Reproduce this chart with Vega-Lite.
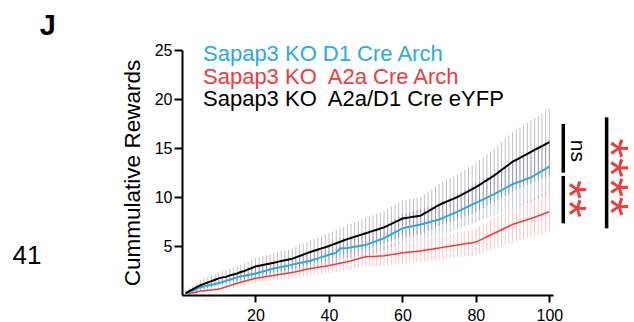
{
"$schema": "https://vega.github.io/schema/vega-lite/v6.json",
"width": 371, "height": 245,
"autosize": {"type": "none"},
"padding": {"left": 182, "top": 50, "right": 81, "bottom": 27},
"config": {
  "font": "Liberation Sans",
  "view": {"stroke": null},
  "axis": {"grid": false, "domainColor": "#000", "tickColor": "#000", "labelColor": "#000", "titleColor": "#000", "domainWidth": 2, "tickWidth": 2, "labelFont": "Liberation Sans", "titleFont": "Liberation Sans"}
},
"datasets": {
"one": [{}],
"blk": [
{"t":1,"m":0.2,"e":0.34},{"t":2,"m":0.4,"e":0.38},{"t":3,"m":0.6,"e":0.42},{"t":4,"m":0.8,"e":0.46},{"t":5,"m":1.0,"e":0.5},
{"t":6,"m":1.14,"e":0.53},{"t":7,"m":1.28,"e":0.56},{"t":8,"m":1.42,"e":0.58},{"t":9,"m":1.56,"e":0.61},{"t":10,"m":1.7,"e":0.64},
{"t":11,"m":1.8,"e":0.66},{"t":12,"m":1.85,"e":0.67},{"t":13,"m":2.0,"e":0.7},{"t":14,"m":2.1,"e":0.72},{"t":15,"m":2.2,"e":0.74},
{"t":16,"m":2.34,"e":0.77},{"t":17,"m":2.45,"e":0.79},{"t":18,"m":2.62,"e":0.82},{"t":19,"m":2.76,"e":0.85},{"t":20,"m":2.9,"e":0.88},
{"t":21,"m":2.98,"e":0.9},{"t":22,"m":3.06,"e":0.91},{"t":23,"m":3.14,"e":0.93},{"t":24,"m":3.22,"e":0.94},{"t":25,"m":3.3,"e":0.96},
{"t":26,"m":3.38,"e":0.98},{"t":27,"m":3.46,"e":0.99},{"t":28,"m":3.54,"e":1.01},{"t":29,"m":3.62,"e":1.02},{"t":30,"m":3.7,"e":1.04},
{"t":31,"m":3.84,"e":1.07},{"t":32,"m":3.98,"e":1.1},{"t":33,"m":4.12,"e":1.12},{"t":34,"m":4.26,"e":1.15},{"t":35,"m":4.4,"e":1.18},
{"t":36,"m":4.52,"e":1.2},{"t":37,"m":4.64,"e":1.23},{"t":38,"m":4.76,"e":1.25},{"t":39,"m":4.88,"e":1.28},{"t":40,"m":5.0,"e":1.3},
{"t":41,"m":5.14,"e":1.33},{"t":42,"m":5.28,"e":1.36},{"t":43,"m":5.42,"e":1.38},{"t":44,"m":5.56,"e":1.41},{"t":45,"m":5.7,"e":1.44},
{"t":46,"m":5.82,"e":1.46},{"t":47,"m":5.94,"e":1.49},{"t":48,"m":6.06,"e":1.51},{"t":49,"m":6.18,"e":1.54},{"t":50,"m":6.3,"e":1.56},
{"t":51,"m":6.42,"e":1.58},{"t":52,"m":6.54,"e":1.61},{"t":53,"m":6.66,"e":1.63},{"t":54,"m":6.78,"e":1.66},{"t":55,"m":6.9,"e":1.68},
{"t":56,"m":7.08,"e":1.72},{"t":57,"m":7.26,"e":1.75},{"t":58,"m":7.44,"e":1.79},{"t":59,"m":7.62,"e":1.82},{"t":60,"m":7.8,"e":1.86},
{"t":61,"m":7.86,"e":1.87},{"t":62,"m":7.92,"e":1.88},{"t":63,"m":7.98,"e":1.9},{"t":64,"m":8.04,"e":1.91},{"t":65,"m":8.1,"e":1.92},
{"t":66,"m":8.32,"e":1.96},{"t":67,"m":8.54,"e":2.01},{"t":68,"m":8.76,"e":2.05},{"t":69,"m":8.98,"e":2.1},{"t":70,"m":9.2,"e":2.14},
{"t":71,"m":9.36,"e":2.17},{"t":72,"m":9.52,"e":2.2},{"t":73,"m":9.68,"e":2.24},{"t":74,"m":9.84,"e":2.27},{"t":75,"m":10.0,"e":2.3},
{"t":76,"m":10.2,"e":2.34},{"t":77,"m":10.4,"e":2.38},{"t":78,"m":10.6,"e":2.42},{"t":79,"m":10.8,"e":2.46},{"t":80,"m":11.0,"e":2.5},
{"t":81,"m":11.24,"e":2.55},{"t":82,"m":11.48,"e":2.6},{"t":83,"m":11.72,"e":2.64},{"t":84,"m":11.96,"e":2.69},{"t":85,"m":12.2,"e":2.74},
{"t":86,"m":12.48,"e":2.8},{"t":87,"m":12.76,"e":2.85},{"t":88,"m":13.04,"e":2.91},{"t":89,"m":13.32,"e":2.96},{"t":90,"m":13.6,"e":3.02},
{"t":91,"m":13.8,"e":3.06},{"t":92,"m":14.0,"e":3.1},{"t":93,"m":14.2,"e":3.14},{"t":94,"m":14.4,"e":3.18},{"t":95,"m":14.6,"e":3.22},
{"t":96,"m":14.8,"e":3.26},{"t":97,"m":15.0,"e":3.3},{"t":98,"m":15.2,"e":3.34},{"t":99,"m":15.4,"e":3.38},{"t":100,"m":15.6,"e":3.42}
],
"blu": [
{"t":1,"m":0.1,"e":0.12},{"t":2,"m":0.28,"e":0.16},{"t":3,"m":0.45,"e":0.19},{"t":4,"m":0.63,"e":0.23},{"t":5,"m":0.8,"e":0.26},
{"t":6,"m":0.88,"e":0.28},{"t":7,"m":0.96,"e":0.29},{"t":8,"m":1.04,"e":0.31},{"t":9,"m":1.12,"e":0.32},{"t":10,"m":1.2,"e":0.34},
{"t":11,"m":1.32,"e":0.36},{"t":12,"m":1.44,"e":0.39},{"t":13,"m":1.56,"e":0.41},{"t":14,"m":1.68,"e":0.44},{"t":15,"m":1.8,"e":0.46},
{"t":16,"m":1.88,"e":0.48},{"t":17,"m":1.96,"e":0.49},{"t":18,"m":2.04,"e":0.51},{"t":19,"m":2.12,"e":0.52},{"t":20,"m":2.2,"e":0.54},
{"t":21,"m":2.3,"e":0.56},{"t":22,"m":2.4,"e":0.58},{"t":23,"m":2.5,"e":0.6},{"t":24,"m":2.6,"e":0.62},{"t":25,"m":2.7,"e":0.64},
{"t":26,"m":2.78,"e":0.66},{"t":27,"m":2.86,"e":0.67},{"t":28,"m":2.94,"e":0.69},{"t":29,"m":3.02,"e":0.7},{"t":30,"m":3.1,"e":0.72},
{"t":31,"m":3.18,"e":0.74},{"t":32,"m":3.26,"e":0.75},{"t":33,"m":3.34,"e":0.77},{"t":34,"m":3.42,"e":0.78},{"t":35,"m":3.5,"e":0.8},
{"t":36,"m":3.62,"e":0.82},{"t":37,"m":3.74,"e":0.85},{"t":38,"m":3.86,"e":0.87},{"t":39,"m":3.98,"e":0.9},{"t":40,"m":4.1,"e":0.92},
{"t":41,"m":4.2,"e":0.94},{"t":42,"m":4.3,"e":0.96},{"t":43,"m":4.75,"e":1.05},{"t":44,"m":4.78,"e":1.06},{"t":45,"m":4.8,"e":1.06},
{"t":46,"m":4.86,"e":1.07},{"t":47,"m":4.92,"e":1.08},{"t":48,"m":4.98,"e":1.1},{"t":49,"m":5.04,"e":1.11},{"t":50,"m":5.1,"e":1.12},
{"t":51,"m":5.24,"e":1.15},{"t":52,"m":5.38,"e":1.18},{"t":53,"m":5.52,"e":1.2},{"t":54,"m":5.66,"e":1.23},{"t":55,"m":5.8,"e":1.26},
{"t":56,"m":6.0,"e":1.3},{"t":57,"m":6.2,"e":1.34},{"t":58,"m":6.4,"e":1.38},{"t":59,"m":6.6,"e":1.42},{"t":60,"m":6.8,"e":1.46},
{"t":61,"m":6.88,"e":1.48},{"t":62,"m":6.96,"e":1.49},{"t":63,"m":7.04,"e":1.51},{"t":64,"m":7.12,"e":1.52},{"t":65,"m":7.2,"e":1.54},
{"t":66,"m":7.3,"e":1.56},{"t":67,"m":7.4,"e":1.58},{"t":68,"m":7.5,"e":1.6},{"t":69,"m":7.6,"e":1.62},{"t":70,"m":7.7,"e":1.64},
{"t":71,"m":7.86,"e":1.67},{"t":72,"m":8.02,"e":1.7},{"t":73,"m":8.18,"e":1.74},{"t":74,"m":8.34,"e":1.77},{"t":75,"m":8.5,"e":1.8},
{"t":76,"m":8.68,"e":1.84},{"t":77,"m":8.86,"e":1.87},{"t":78,"m":9.04,"e":1.91},{"t":79,"m":9.22,"e":1.94},{"t":80,"m":9.4,"e":1.98},
{"t":81,"m":9.58,"e":2.02},{"t":82,"m":9.76,"e":2.05},{"t":83,"m":9.94,"e":2.09},{"t":84,"m":10.12,"e":2.12},{"t":85,"m":10.3,"e":2.16},
{"t":86,"m":10.5,"e":2.2},{"t":87,"m":10.7,"e":2.24},{"t":88,"m":10.9,"e":2.28},{"t":89,"m":11.1,"e":2.32},{"t":90,"m":11.3,"e":2.36},
{"t":91,"m":11.44,"e":2.39},{"t":92,"m":11.58,"e":2.42},{"t":93,"m":11.72,"e":2.44},{"t":94,"m":11.86,"e":2.47},{"t":95,"m":12.0,"e":2.5},
{"t":96,"m":12.22,"e":2.54},{"t":97,"m":12.44,"e":2.59},{"t":98,"m":12.66,"e":2.63},{"t":99,"m":12.88,"e":2.68},{"t":100,"m":13.1,"e":2.72}
],
"red": [
{"t":1,"m":0.05,"e":0.06},{"t":2,"m":0.14,"e":0.08},{"t":3,"m":0.22,"e":0.1},{"t":4,"m":0.31,"e":0.12},{"t":5,"m":0.4,"e":0.15},
{"t":6,"m":0.44,"e":0.16},{"t":7,"m":0.48,"e":0.17},{"t":8,"m":0.52,"e":0.17},{"t":9,"m":0.56,"e":0.18},{"t":10,"m":0.6,"e":0.19},
{"t":11,"m":0.72,"e":0.22},{"t":12,"m":0.84,"e":0.25},{"t":13,"m":0.96,"e":0.28},{"t":14,"m":1.08,"e":0.31},{"t":15,"m":1.2,"e":0.34},
{"t":16,"m":1.3,"e":0.36},{"t":17,"m":1.4,"e":0.39},{"t":18,"m":1.5,"e":0.41},{"t":19,"m":1.6,"e":0.43},{"t":20,"m":1.7,"e":0.46},
{"t":21,"m":1.76,"e":0.47},{"t":22,"m":1.82,"e":0.49},{"t":23,"m":1.88,"e":0.5},{"t":24,"m":1.94,"e":0.52},{"t":25,"m":2.0,"e":0.53},
{"t":26,"m":2.06,"e":0.54},{"t":27,"m":2.12,"e":0.56},{"t":28,"m":2.18,"e":0.57},{"t":29,"m":2.24,"e":0.59},{"t":30,"m":2.3,"e":0.6},
{"t":31,"m":2.38,"e":0.62},{"t":32,"m":2.46,"e":0.64},{"t":33,"m":2.54,"e":0.66},{"t":34,"m":2.62,"e":0.68},{"t":35,"m":2.7,"e":0.7},
{"t":36,"m":2.76,"e":0.71},{"t":37,"m":2.82,"e":0.73},{"t":38,"m":2.88,"e":0.74},{"t":39,"m":2.94,"e":0.76},{"t":40,"m":3.0,"e":0.77},
{"t":41,"m":3.08,"e":0.79},{"t":42,"m":3.16,"e":0.81},{"t":43,"m":3.24,"e":0.83},{"t":44,"m":3.32,"e":0.85},{"t":45,"m":3.4,"e":0.87},
{"t":46,"m":3.5,"e":0.89},{"t":47,"m":3.6,"e":0.91},{"t":48,"m":3.7,"e":0.94},{"t":49,"m":3.8,"e":0.96},{"t":50,"m":3.9,"e":0.99},
{"t":51,"m":3.92,"e":0.99},{"t":52,"m":3.94,"e":1.0},{"t":53,"m":3.96,"e":1.0},{"t":54,"m":3.98,"e":1.01},{"t":55,"m":4.0,"e":1.01},
{"t":56,"m":4.06,"e":1.02},{"t":57,"m":4.12,"e":1.04},{"t":58,"m":4.18,"e":1.05},{"t":59,"m":4.24,"e":1.07},{"t":60,"m":4.3,"e":1.08},
{"t":61,"m":4.34,"e":1.09},{"t":62,"m":4.38,"e":1.1},{"t":63,"m":4.42,"e":1.11},{"t":64,"m":4.46,"e":1.12},{"t":65,"m":4.5,"e":1.13},
{"t":66,"m":4.56,"e":1.14},{"t":67,"m":4.62,"e":1.16},{"t":68,"m":4.68,"e":1.17},{"t":69,"m":4.74,"e":1.19},{"t":70,"m":4.8,"e":1.2},
{"t":71,"m":4.86,"e":1.22},{"t":72,"m":4.92,"e":1.23},{"t":73,"m":4.98,"e":1.25},{"t":74,"m":5.04,"e":1.26},{"t":75,"m":5.1,"e":1.27},
{"t":76,"m":5.16,"e":1.29},{"t":77,"m":5.22,"e":1.3},{"t":78,"m":5.28,"e":1.32},{"t":79,"m":5.34,"e":1.33},{"t":80,"m":5.4,"e":1.35},
{"t":81,"m":5.58,"e":1.39},{"t":82,"m":5.76,"e":1.43},{"t":83,"m":5.94,"e":1.48},{"t":84,"m":6.12,"e":1.52},{"t":85,"m":6.3,"e":1.56},
{"t":86,"m":6.48,"e":1.61},{"t":87,"m":6.66,"e":1.65},{"t":88,"m":6.84,"e":1.69},{"t":89,"m":7.02,"e":1.73},{"t":90,"m":7.2,"e":1.78},
{"t":91,"m":7.32,"e":1.81},{"t":92,"m":7.44,"e":1.84},{"t":93,"m":7.56,"e":1.86},{"t":94,"m":7.68,"e":1.89},{"t":95,"m":7.8,"e":1.92},
{"t":96,"m":7.94,"e":1.96},{"t":97,"m":8.08,"e":1.99},{"t":98,"m":8.22,"e":2.02},{"t":99,"m":8.36,"e":2.06},{"t":100,"m":8.5,"e":2.09}
]
},
"encoding": {
  "x": {"type": "quantitative", "scale": {"domain": [0, 101], "nice": false, "zero": false},
        "axis": {"title": null, "values": [20, 40, 60, 80, 100], "tickSize": 7, "labelFontSize": 16, "labelPadding": 5}},
  "y": {"type": "quantitative", "scale": {"domain": [0, 25], "nice": false},
        "axis": {"title": "Cummulative Rewards", "values": [5, 10, 15, 20, 25], "tickSize": 8, "labelFontSize": 16, "labelPadding": 2, "titleFontSize": 22.5, "titleFontWeight": "normal", "titlePadding": 10}}
},
"layer": [
  {"data": {"name": "red"}, "mark": {"type": "errorbar", "color": "#f04040", "opacity": 0.3, "thickness": 1},
   "encoding": {"x": {"field": "t", "type": "quantitative"}, "y": {"field": "m", "type": "quantitative"}, "yError": {"field": "e"}}},
  {"data": {"name": "blu"}, "mark": {"type": "errorbar", "color": "#4a5fa8", "opacity": 0.35, "thickness": 1},
   "encoding": {"x": {"field": "t", "type": "quantitative"}, "y": {"field": "m", "type": "quantitative"}, "yError": {"field": "e"}}},
  {"data": {"name": "blk"}, "mark": {"type": "errorbar", "color": "#000000", "opacity": 0.25, "thickness": 1},
   "encoding": {"x": {"field": "t", "type": "quantitative"}, "y": {"field": "m", "type": "quantitative"}, "yError": {"field": "e"}}},
  {"data": {"name": "red"}, "mark": {"type": "line", "strokeWidth": 1.5},
   "encoding": {"x": {"field": "t", "type": "quantitative"}, "y": {"field": "m", "type": "quantitative"},
     "color": {"datum": "Sapap3 KO\u00a0 A2a Cre Arch",
       "scale": {"domain": ["Sapap3 KO D1 Cre Arch", "Sapap3 KO\u00a0 A2a Cre Arch", "Sapap3 KO\u00a0 A2a/D1 Cre eYFP"], "range": ["#29abe2", "#ef3b3b", "#000000"]},
       "legend": {"title": null, "orient": "none", "legendX": -1, "legendY": -7, "symbolSize": 0, "symbolOpacity": 0, "symbolStrokeWidth": 0, "labelOffset": 0, "labelFontSize": 22, "labelFont": "Liberation Sans", "labelLimit": 0, "rowPadding": 0.5,
         "encode": {"labels": {"update": {"fill": {"scale": "color", "field": "value"}}}}}}}},
  {"data": {"name": "blu"}, "mark": {"type": "line", "strokeWidth": 2},
   "encoding": {"x": {"field": "t", "type": "quantitative"}, "y": {"field": "m", "type": "quantitative"}, "color": {"datum": "Sapap3 KO D1 Cre Arch"}}},
  {"data": {"name": "blk"}, "mark": {"type": "line", "strokeWidth": 2},
   "encoding": {"x": {"field": "t", "type": "quantitative"}, "y": {"field": "m", "type": "quantitative"}, "color": {"datum": "Sapap3 KO\u00a0 A2a/D1 Cre eYFP"}}},
  {"data": {"name": "one"}, "mark": {"type": "rule", "strokeWidth": 3.5, "color": "#000", "clip": false},
   "encoding": {"x": {"datum": 103.8}, "y": {"datum": 17.45}, "y2": {"datum": 12.48}}},
  {"data": {"name": "one"}, "mark": {"type": "rule", "strokeWidth": 3.5, "color": "#000", "clip": false},
   "encoding": {"x": {"datum": 103.8}, "y": {"datum": 12.14}, "y2": {"datum": 7.31}}},
  {"data": {"name": "one"}, "mark": {"type": "rule", "strokeWidth": 3.5, "color": "#000", "clip": false},
   "encoding": {"x": {"datum": 115.6}, "y": {"datum": 18.13}, "y2": {"datum": 6.8}}},
  {"data": {"name": "one"}, "mark": {"type": "text", "text": "ns", "angle": 90, "fontSize": 21, "align": "center", "baseline": "middle", "color": "#000"},
   "encoding": {"x": {"datum": 107.6}, "y": {"datum": 14.71}}},
  {"data": {"name": "one"}, "mark": {"type": "text", "text": "**", "angle": 90, "fontSize": 48, "align": "center", "baseline": "middle", "color": "#ef3b3b"},
   "encoding": {"x": {"datum": 104.8}, "y": {"datum": 9.8}}},
  {"data": {"name": "one"}, "mark": {"type": "text", "text": "****", "angle": 90, "fontSize": 50, "align": "center", "baseline": "middle", "color": "#ef3b3b"},
   "encoding": {"x": {"datum": 116.1}, "y": {"datum": 12.0}}},
  {"data": {"name": "one"}, "mark": {"type": "text", "text": "J", "fontSize": 29, "fontWeight": "bold", "align": "center", "baseline": "alphabetic", "color": "#000"},
   "encoding": {"x": {"datum": -36.5}, "y": {"datum": 26.53}}},
  {"data": {"name": "one"}, "mark": {"type": "text", "text": "41", "fontSize": 26, "align": "center", "baseline": "alphabetic", "color": "#000"},
   "encoding": {"x": {"datum": -42.2}, "y": {"datum": 3.16}}}
]
}
